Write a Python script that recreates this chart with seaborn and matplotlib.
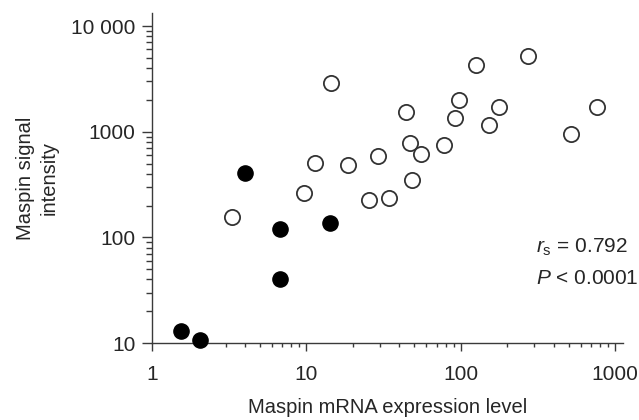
import pandas as pd
import numpy as np
import matplotlib
matplotlib.use('Agg')
import matplotlib.pyplot as plt
import matplotlib.ticker as mticker
import seaborn as sns

# 读图得到的数据 (open = 空心, filled = 实心)
open_x = [14.4, 126, 272, 44, 98, 176, 762, 92, 153, 517, 47, 55, 78, 29, 18.5, 11.4, 48.4, 25.6, 34.2, 9.7, 3.3]
open_y = [2890, 4300, 5200, 1546, 1983, 1725, 1725, 1349, 1157, 957, 787, 620, 754, 593, 487, 506, 347, 227, 238, 265, 155]
filled_x = [4.0, 6.7, 6.7, 14.3, 1.53, 2.05]
filled_y = [404, 120, 40, 138, 13.1, 10.8]

x_ticks = [1, 10, 100, 1000]
x_tick_labels = ['1', '10', '100', '1000']
y_ticks = [10, 100, 1000, 10000]
y_tick_labels = ['10', '100', '1000', '10 000']

sns.set_style('ticks')
plt.rcParams['font.family'] = ['Liberation Sans', 'DejaVu Sans']
plt.rcParams['mathtext.fontset'] = 'custom'
plt.rcParams['mathtext.rm'] = 'Liberation Sans'
plt.rcParams['mathtext.it'] = 'Liberation Sans:italic'

axis_color = '#3a3a3a'
fs = 15

fig = plt.figure(figsize=(6.39, 4.2), dpi=100)
ax = fig.add_axes([0.238, 0.183, 0.737, 0.786])

open_df = pd.DataFrame({'mrna': open_x, 'signal': open_y})
filled_df = pd.DataFrame({'mrna': filled_x, 'signal': filled_y})

sns.scatterplot(data=open_df, x='mrna', y='signal', ax=ax, color='white',
                edgecolor='#333333', linewidth=1.3, s=120, clip_on=False, zorder=3)
sns.scatterplot(data=filled_df, x='mrna', y='signal', ax=ax, color='black',
                edgecolor='black', linewidth=1.0, s=120, clip_on=False, zorder=3)

ax.set_xscale('log')
ax.set_yscale('log')
ax.set_xlim(1, 1127)
ax.set_ylim(10, 13270)

ax.xaxis.set_major_locator(mticker.FixedLocator(x_ticks))
ax.xaxis.set_major_formatter(mticker.FixedFormatter(x_tick_labels))
ax.yaxis.set_major_locator(mticker.FixedLocator(y_ticks))
ax.yaxis.set_major_formatter(mticker.FixedFormatter(y_tick_labels))
ax.xaxis.set_minor_locator(mticker.LogLocator(base=10, subs=np.arange(2, 10)))
ax.yaxis.set_minor_locator(mticker.LogLocator(base=10, subs=np.arange(2, 10)))
ax.xaxis.set_minor_formatter(mticker.NullFormatter())
ax.yaxis.set_minor_formatter(mticker.NullFormatter())

for side in ['top', 'right']:
    ax.spines[side].set_visible(False)
for side in ['left', 'bottom']:
    ax.spines[side].set_color(axis_color)
    ax.spines[side].set_linewidth(1.0)

ax.tick_params(axis='x', which='major', length=6, width=1.0, color=axis_color,
               labelsize=fs, pad=10)
ax.tick_params(axis='x', which='minor', length=3, width=1.0, color=axis_color)
ax.tick_params(axis='y', which='major', length=7, width=1.0, color=axis_color,
               labelsize=fs, pad=5)
ax.tick_params(axis='y', which='minor', length=4, width=1.0, color=axis_color)

ax.set_xlabel('Maspin mRNA expression level', fontsize=14.5)
ax.xaxis.set_label_coords(0.5, -0.165)
ax.set_ylabel('Maspin signal\nintensity', fontsize=14.5, multialignment='center',
              linespacing=1.3)
ax.yaxis.set_label_coords(-0.198, 0.5)

ax.text(0.815, 0.291, r'$r_\mathrm{s}$ = 0.792', transform=ax.transAxes,
        fontsize=fs, ha='left', va='center')
ax.text(0.815, 0.197, r'$P$ < 0.0001', transform=ax.transAxes,
        fontsize=fs, ha='left', va='center')

plt.savefig('out.png', dpi=100)
